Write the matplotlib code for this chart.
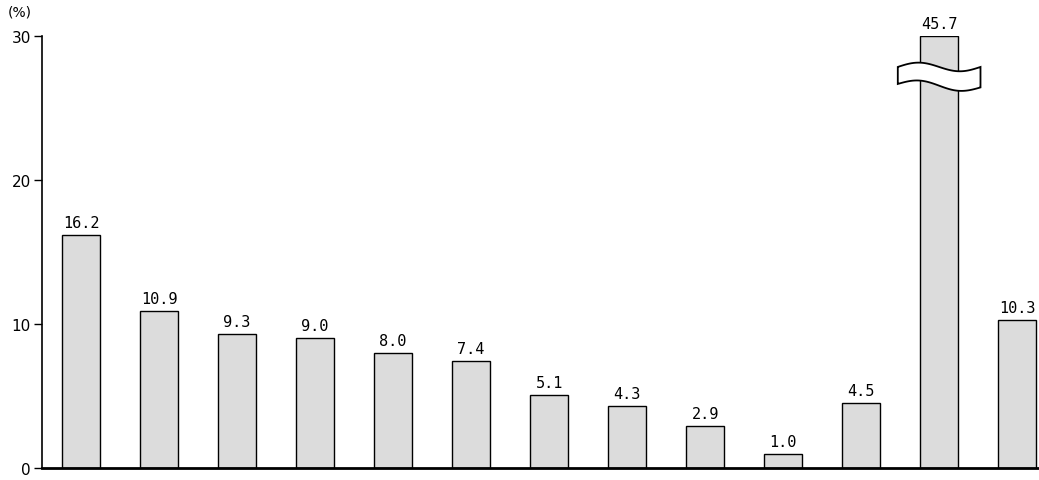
import matplotlib
matplotlib.use("Agg")
import matplotlib.pyplot as plt
import numpy as np

values = [16.2, 10.9, 9.3, 9.0, 8.0, 7.4, 5.1, 4.3, 2.9, 1.0, 4.5, 45.7, 10.3]
labels = ["16.2", "10.9", "9.3", "9.0", "8.0", "7.4", "5.1", "4.3", "2.9", "1.0", "4.5", "45.7", "10.3"]
yticks = [0, 10, 20, 30]
ymax = 30

plt.rcParams['font.family'] = ['DejaVu Sans']
fig = plt.figure(figsize=(10.39, 4.81), dpi=100)
W, H = 1039, 481
ax = fig.add_axes([42 / W, (H - 469) / H, (1039 - 42) / W, (469 - 37) / H])

x = np.arange(len(values))
shown = [min(v, ymax) for v in values]
ax.bar(x, shown, width=0.49, facecolor='#dcdcdc', edgecolor='black', linewidth=1.0,
       zorder=2)

ax.set_xlim(-0.5, 12.28)
ax.set_ylim(0, ymax)
ax.set_yticks(yticks)
ax.set_yticklabels([str(t) for t in yticks], fontsize=11)
ax.set_xticks([])
for s in ['top', 'right']:
    ax.spines[s].set_visible(False)
ax.spines['left'].set_linewidth(1.2)
ax.spines['bottom'].set_linewidth(2.0)
ax.tick_params(axis='y', length=6, width=1.0, pad=2)

for xi, v, lab in zip(x, shown, labels):
    ax.text(xi, v + 0.35, lab, ha='center', va='bottom', fontsize=11,
            family='DejaVu Sans Mono', zorder=4)

# break symbol on truncated bar
for xi, v in zip(x, values):
    if v > ymax:
        t = np.linspace(-1, 1, 100)
        half_w = 0.53
        xs = xi + t * half_w
        wave = -0.3 * np.sin(np.pi * t)
        yc = 27.2
        top = yc + 0.65 + wave
        bot = yc - 0.65 + wave - 0.12 * t
        poly_x = np.concatenate([xs, xs[::-1]])
        poly_y = np.concatenate([top, bot[::-1]])
        ax.fill(poly_x, poly_y, facecolor='white', edgecolor='black', linewidth=1.3,
                zorder=5, clip_on=False)

fig.text(20 / W, 1 - 13 / H, "(%)", ha='center', va='center', fontsize=10)

fig.savefig("out.png", dpi=100)
